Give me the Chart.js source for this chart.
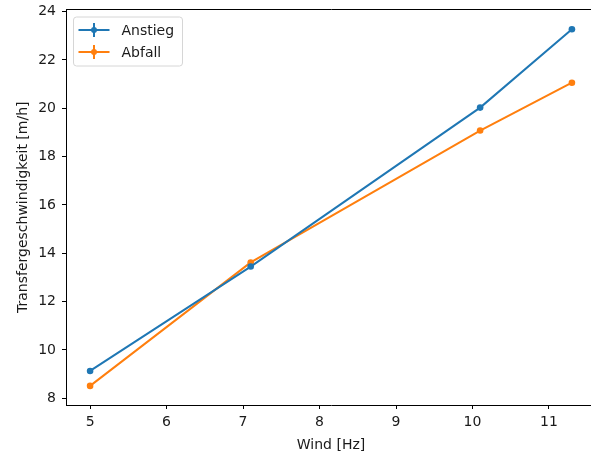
<!DOCTYPE html>
<html>
<head>
<meta charset="utf-8">
<script src="https://cdn.jsdelivr.net/npm/chart.js@4/dist/chart.umd.min.js"></script>
<style>
  html, body { margin: 0; padding: 0; background: #fff; overflow: hidden; }
  #wrap { width: 591px; height: 456px; overflow: hidden; position: relative; }
  #c { position: absolute; left: 0; top: 0; }
</style>
</head>
<body>
<div id="wrap"><canvas id="c" width="640" height="456"></canvas></div>
<script>
// Wind frequency (x) and transfer speed for rising / falling runs
const windHz = [5, 7.1, 10.1, 11.3];
const anstieg = [9.13, 13.45, 20.03, 23.27];
const abfall = [8.51, 13.62, 19.08, 21.06];
const xTicks = [5, 6, 7, 8, 9, 10, 11];
const yTicks = [8, 10, 12, 14, 16, 18, 20, 22, 24];
const seriesNames = ['Anstieg', 'Abfall'];
const seriesColors = ['#1f77b4', '#ff7f0e'];

const FONT = 'DejaVu Sans';
const TXT = '#1a1a1a';

const toPoints = (xs, ys) => xs.map((x, i) => ({ x: x, y: ys[i] }));

// Legend box with errorbar-style handles
const legendPlugin = {
  id: 'ebLegend',
  afterDraw(chart) {
    const { ctx, chartArea: a } = chart;
    const x0 = a.left + 7.5, y0 = a.top + 7.5;
    const w = 109, h = 49, r = 3;
    ctx.save();
    ctx.fillStyle = 'rgba(255,255,255,0.8)';
    ctx.strokeStyle = '#d6d6d6';
    ctx.lineWidth = 1;
    ctx.beginPath();
    ctx.moveTo(x0 + r, y0);
    ctx.arcTo(x0 + w, y0, x0 + w, y0 + h, r);
    ctx.arcTo(x0 + w, y0 + h, x0, y0 + h, r);
    ctx.arcTo(x0, y0 + h, x0, y0, r);
    ctx.arcTo(x0, y0, x0 + w, y0, r);
    ctx.closePath();
    ctx.fill();
    ctx.stroke();
    chart.data.datasets.forEach((ds, i) => {
      const cy = y0 + 13 + i * 22;
      const lx = x0 + 5, rx = x0 + 36, mx = (lx + rx) / 2;
      ctx.strokeStyle = ds.borderColor;
      ctx.fillStyle = ds.borderColor;
      ctx.lineWidth = 2;
      ctx.beginPath();
      ctx.moveTo(lx, cy); ctx.lineTo(rx, cy);
      ctx.moveTo(mx, cy - 7); ctx.lineTo(mx, cy + 7);
      ctx.stroke();
      ctx.beginPath();
      ctx.arc(mx, cy, 3, 0, Math.PI * 2);
      ctx.fill();
      ctx.fillStyle = TXT;
      ctx.font = '14px ' + FONT;
      ctx.textBaseline = 'middle';
      ctx.textAlign = 'left';
      ctx.fillText(ds.label, x0 + 48, cy + 1);
    });
    ctx.restore();
  }
};

new Chart(document.getElementById('c'), {
  type: 'line',
  data: {
    datasets: [
      { label: seriesNames[0], data: toPoints(windHz, anstieg) },
      { label: seriesNames[1], data: toPoints(windHz, abfall) }
    ].map((d, i) => Object.assign(d, {
      borderColor: seriesColors[i],
      backgroundColor: seriesColors[i],
      borderWidth: 2,
      pointRadius: 3.3,
      pointBorderWidth: 0,
      tension: 0,
      fill: false
    }))
  },
  options: {
    responsive: false,
    animation: false,
    events: [],
    layout: { padding: { top: 9.5, right: 44, left: 0, bottom: 0 } },
    plugins: { legend: { display: false }, tooltip: { enabled: false } },
    scales: {
      x: {
        type: 'linear',
        min: 4.685,
        max: 11.615,
        afterBuildTicks: s => { s.ticks = xTicks.map(v => ({ value: v })); },
        afterFit: s => { s.height = 51; s.paddingLeft = 0; s.paddingRight = 0; },
        grid: { display: true, drawOnChartArea: false, tickLength: 4, tickColor: '#000' },
        border: { display: true, color: '#000', width: 1 },
        ticks: { color: TXT, font: { family: FONT, size: 14 }, padding: 5, maxRotation: 0, autoSkip: false },
        title: { display: true, text: 'Wind [Hz]', color: TXT, font: { family: FONT, size: 14 }, padding: { top: 0, bottom: 2 } }
      },
      // top spine of the plot frame
      xTop: {
        type: 'linear',
        position: 'top',
        min: 4.685,
        max: 11.615,
        afterFit: s => { s.height = 0; s.paddingLeft = 0; s.paddingRight = 0; },
        grid: { display: false },
        ticks: { display: false },
        border: { display: true, color: '#000', width: 1 }
      },
      y: {
        type: 'linear',
        min: 7.72,
        max: 24.09,
        afterBuildTicks: s => { s.ticks = yTicks.map(v => ({ value: v })); },
        afterFit: s => { s.width = 66; s.paddingTop = 0; s.paddingBottom = 0; },
        grid: { display: true, drawOnChartArea: false, tickLength: 4, tickColor: '#000' },
        border: { display: true, color: '#000', width: 1 },
        ticks: { color: TXT, font: { family: FONT, size: 14 }, padding: 6, autoSkip: false },
        title: { display: true, text: 'Transfergeschwindigkeit [m/h]', color: TXT, font: { family: FONT, size: 14 }, padding: { top: 15, bottom: 0 } }
      }
    }
  },
  plugins: [legendPlugin]
});
</script>
</body>
</html>
